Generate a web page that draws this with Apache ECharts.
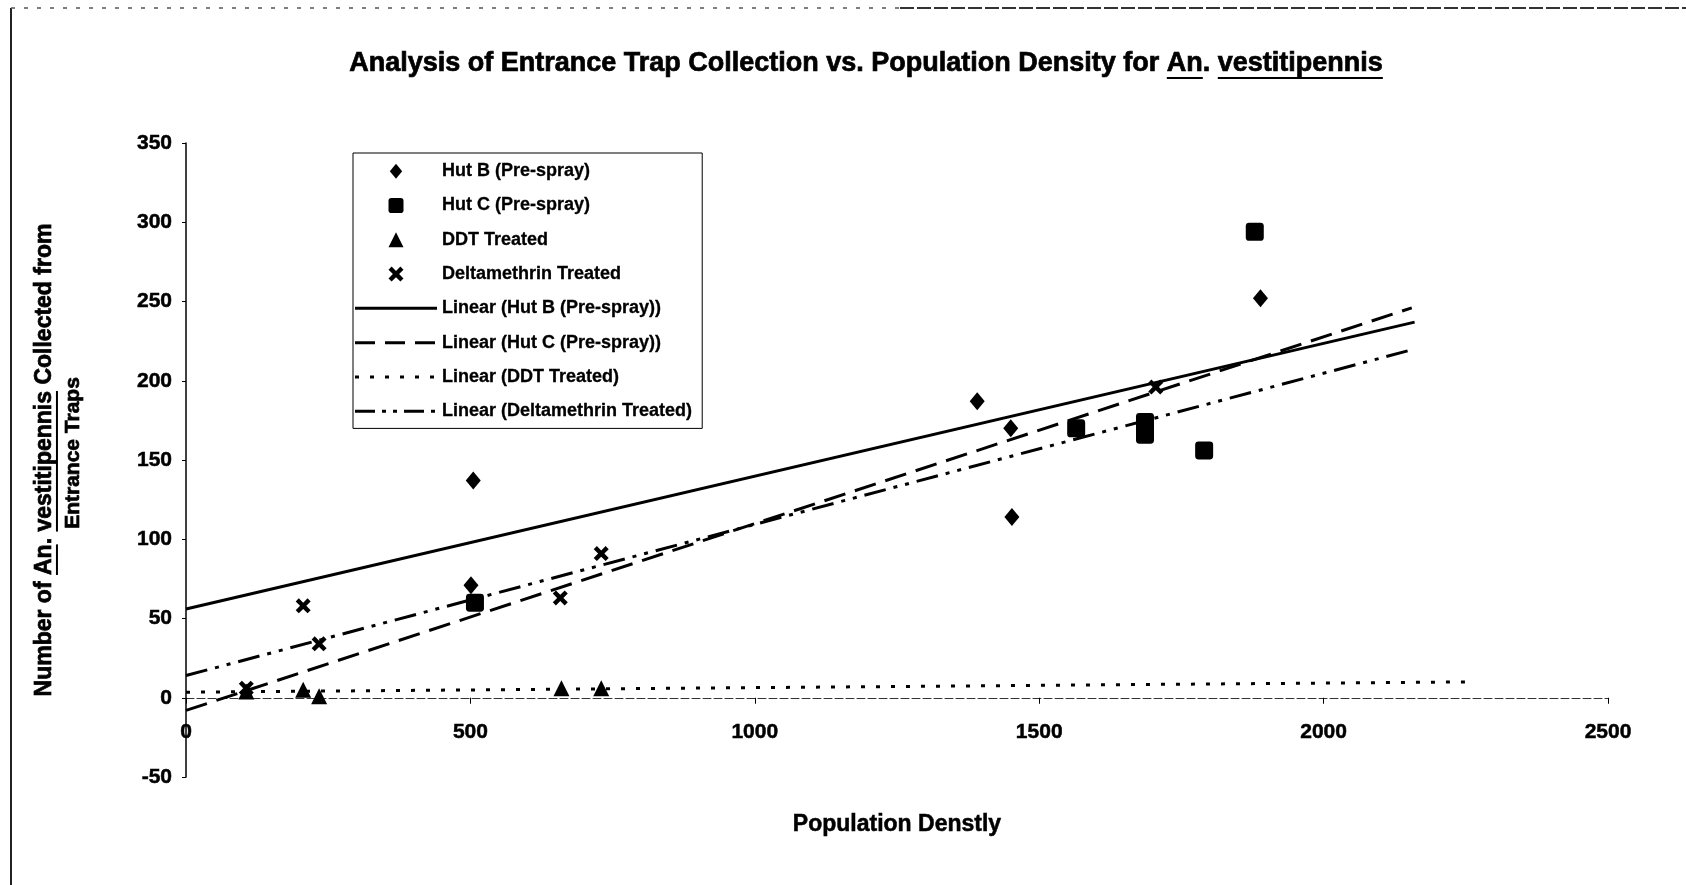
<!DOCTYPE html>
<html><head><meta charset="utf-8">
<script src="https://cdn.jsdelivr.net/npm/echarts@6/dist/echarts.min.js"></script>
<style>html,body{margin:0;padding:0;background:#fff}#chart{width:1686px;height:885px}</style>
</head><body><div id="chart"></div>
<script>
// ---- data ----
const hutBX = [501, 505, 1391, 1450, 1452, 1889];
const hutBY = [71, 137, 187, 170, 114, 252];
const hutCX = [508, 1565, 1686, 1686, 1790, 1879];
const hutCY = [60, 170, 174, 166, 156, 294];
const ddtX = [106, 206, 234, 660, 730];
const ddtY = [4, 5, 1, 6, 6];
const deltaX = [106, 206, 234, 658, 730, 1705];
const deltaY = [6, 58, 34, 63, 91, 196];
// linear trend lines (end points)
const trendHutBX = [0, 2160], trendHutBY = [56, 237];
const trendHutCX = [0, 2155], trendHutCY = [-8, 246];
const trendDDTX = [0, 2255], trendDDTY = [3.5, 10];
const trendDeltaX = [0, 2160], trendDeltaY = [14, 220];
const seriesNames = ['Hut B (Pre-spray)', 'Hut C (Pre-spray)', 'DDT Treated', 'Deltamethrin Treated',
  'Linear (Hut B (Pre-spray))', 'Linear (Hut C (Pre-spray))', 'Linear (DDT Treated)', 'Linear (Deltamethrin Treated)'];
const xMin = 0, xMax = 2500, xStep = 500;
const yMin = -50, yMax = 350, yStep = 50;
const xTitle = 'Population Denstly';
const titleSegs = [{t: 'Analysis of Entrance Trap Collection vs. Population Density for '}, {t: 'An', u: true}, {t: '. '}, {t: 'vestitipennis', u: true}];
const yTitle1 = [{t: 'Number of '}, {t: 'An', u: true}, {t: '. '}, {t: 'vestitipennis', u: true}, {t: ' Collected from'}];
const yTitle2 = [{t: 'Entrance Traps'}];

// ---- layout / style ----
const W = 1686, H = 885;
const G = {left: 186, right: 78, top: 143, bottom: 108};
const FF = '"Liberation Sans", Arial, Helvetica, sans-serif';
const zip = (a, b) => a.map((v, i) => [v, b[i]]);
const ctx = document.createElement('canvas').getContext('2d');
function measure(text, font) { ctx.font = font; return ctx.measureText(text).width; }
function uText(segs, size, cx, cy, rotation) {
  const font = 'bold ' + size + 'px ' + FF;
  const total = segs.reduce((s, g) => s + measure(g.t, font), 0);
  let x = -total / 2;
  const children = [];
  segs.forEach(g => {
    const w = measure(g.t, font);
    children.push({type: 'text', x: x, y: 0, style: {text: g.t, font: font, fill: '#000', stroke: '#000', lineWidth: 0.7, textAlign: 'left', textVerticalAlign: 'middle'}});
    if (g.u) children.push({type: 'line', shape: {x1: x, y1: size * 0.52, x2: x + w, y2: size * 0.52}, style: {stroke: '#000', lineWidth: 2}});
    x += w;
  });
  return {type: 'group', x: cx, y: cy, rotation: rotation || 0, children: children};
}
// legend icons for trend lines: dash pattern drawn as filled bars in an 82 x IH box
const IW = 82, IH = 15;
function dashIcon(pattern, thick) {
  const y1 = (IH - thick) / 2, y2 = y1 + thick;
  let p = 'path://M0,0 L0.01,0 L0.01,0.01 Z M' + IW + ',' + IH + ' L' + (IW - 0.01) + ',' + IH + ' L' + (IW - 0.01) + ',' + (IH - 0.01) + ' Z';
  let x = 0, k = 0;
  while (x < IW) {
    const len = pattern[k % pattern.length];
    if (k % 2 === 0) {
      const xe = Math.min(IW, x + len);
      p += ' M' + x + ',' + y1 + ' L' + xe + ',' + y1 + ' L' + xe + ',' + y2 + ' L' + x + ',' + y2 + ' Z';
    }
    x += len; k++;
  }
  return p;
}
const DIAMOND = 'path://M7,0 L14,8.5 L7,17 L0,8.5 Z';
const SQUARE = 'path://M3,0 L13,0 Q16,0 16,3 L16,13 Q16,16 13,16 L3,16 Q0,16 0,13 L0,3 Q0,0 3,0 Z';
const TRIANGLE = 'path://M7.5,0 L15,15 L0,15 Z';
const XMARK = 'path://M2.5,0 L6,3.5 L9.5,0 L12,2.5 L8.5,6 L12,9.5 L9.5,12 L6,8.5 L2.5,12 L0,9.5 L3.5,6 L0,2.5 Z';
const dashHutC = [22, 10], dashDDT = [4, 11], dashDelta = [22, 8, 4, 8, 4, 8];

const plotH = H - G.top - G.bottom;
const zeroOffset = -(0 - yMin) / (yMax - yMin) * plotH;

const chart = echarts.init(document.getElementById('chart'), null, {renderer: 'canvas'});
const lineS = (name, xs, ys, type) => ({
  name: name, type: 'line', data: zip(xs, ys), symbol: 'none', silent: true,
  lineStyle: {color: '#000', width: 3, type: type, cap: 'butt'}, itemStyle: {color: '#000'}, z: 2
});
const scat = (name, xs, ys, symbol, size) => ({
  name: name, type: 'scatter', data: zip(xs, ys), symbol: symbol, symbolSize: size,
  itemStyle: {color: '#000', opacity: 1}, z: 3
});
const bold = {fontFamily: FF, fontWeight: 'bold', color: '#000', textBorderColor: '#000', textBorderWidth: 0.5};
chart.setOption({
  animation: false,
  backgroundColor: '#fff',
  grid: Object.assign({containLabel: false, outerBoundsMode: 'none'}, G),
  legend: {
    orient: 'vertical', left: 353, top: 153,
    data: [
      {name: seriesNames[0], icon: DIAMOND},
      {name: seriesNames[1], icon: SQUARE},
      {name: seriesNames[2], icon: TRIANGLE},
      {name: seriesNames[3], icon: XMARK},
      {name: seriesNames[4], icon: dashIcon([IW], 3)},
      {name: seriesNames[5], icon: dashIcon([20, 10], 3)},
      {name: seriesNames[6], icon: dashIcon(dashDDT, 3)},
      {name: seriesNames[7], icon: dashIcon([20, 7, 4, 7, 4, 7], 3)}
    ],
    itemWidth: IW, itemHeight: IH, itemGap: 16,
    padding: [9, 10, 8, 2],
    borderColor: '#000', borderWidth: 1,
    itemStyle: {borderWidth: 0},
    textStyle: Object.assign({fontSize: 18}, bold, {textBorderWidth: 0.3}),
    selectedMode: false
  },
  xAxis: {
    type: 'value', min: xMin, max: xMax, interval: xStep,
    offset: zeroOffset,
    axisLine: {onZero: false, lineStyle: {color: '#333', width: 1, type: [8, 3]}},
    axisTick: {show: true, length: 6, lineStyle: {color: '#000', width: 1}},
    axisLabel: Object.assign({fontSize: 21, margin: 24, formatter: v => String(v)}, bold),
    splitLine: {show: false},
    name: xTitle, nameLocation: 'middle', nameGap: 115,
    nameTextStyle: Object.assign({fontSize: 23}, bold)
  },
  yAxis: {
    type: 'value', min: yMin, max: yMax, interval: yStep,
    axisLine: {show: true, onZero: false, lineStyle: {color: '#000', width: 1.5}},
    axisTick: {show: true, length: 4, lineStyle: {color: '#000'}},
    axisLabel: Object.assign({fontSize: 21, margin: 14, formatter: v => String(v)}, bold),
    splitLine: {show: false}
  },
  graphic: [
    {type: 'line', shape: {x1: 11, y1: 8, x2: 11, y2: 885}, style: {stroke: '#222', lineWidth: 2}},
    {type: 'line', shape: {x1: 11, y1: 8, x2: 900, y2: 8}, style: {stroke: '#555', lineWidth: 1.5, lineDash: [4, 9]}},
    {type: 'line', shape: {x1: 900, y1: 8, x2: 1686, y2: 8}, style: {stroke: '#333', lineWidth: 2, lineDash: [14, 3]}},
    uText(titleSegs, 27, 866, 64, 0),
    uText(yTitle1, 23, 45, 460, Math.PI / 2),
    uText(yTitle2, 21, 73, 453, Math.PI / 2)
  ],
  series: [
    scat(seriesNames[0], hutBX, hutBY, DIAMOND, [15, 18]),
    scat(seriesNames[1], hutCX, hutCY, SQUARE, 18),
    scat(seriesNames[2], ddtX, ddtY, TRIANGLE, 16),
    scat(seriesNames[3], deltaX, deltaY, XMARK, 15),
    lineS(seriesNames[4], trendHutBX, trendHutBY, 'solid'),
    lineS(seriesNames[5], trendHutCX, trendHutCY, dashHutC),
    lineS(seriesNames[6], trendDDTX, trendDDTY, dashDDT),
    lineS(seriesNames[7], trendDeltaX, trendDeltaY, dashDelta)
  ]
});
</script></body></html>
